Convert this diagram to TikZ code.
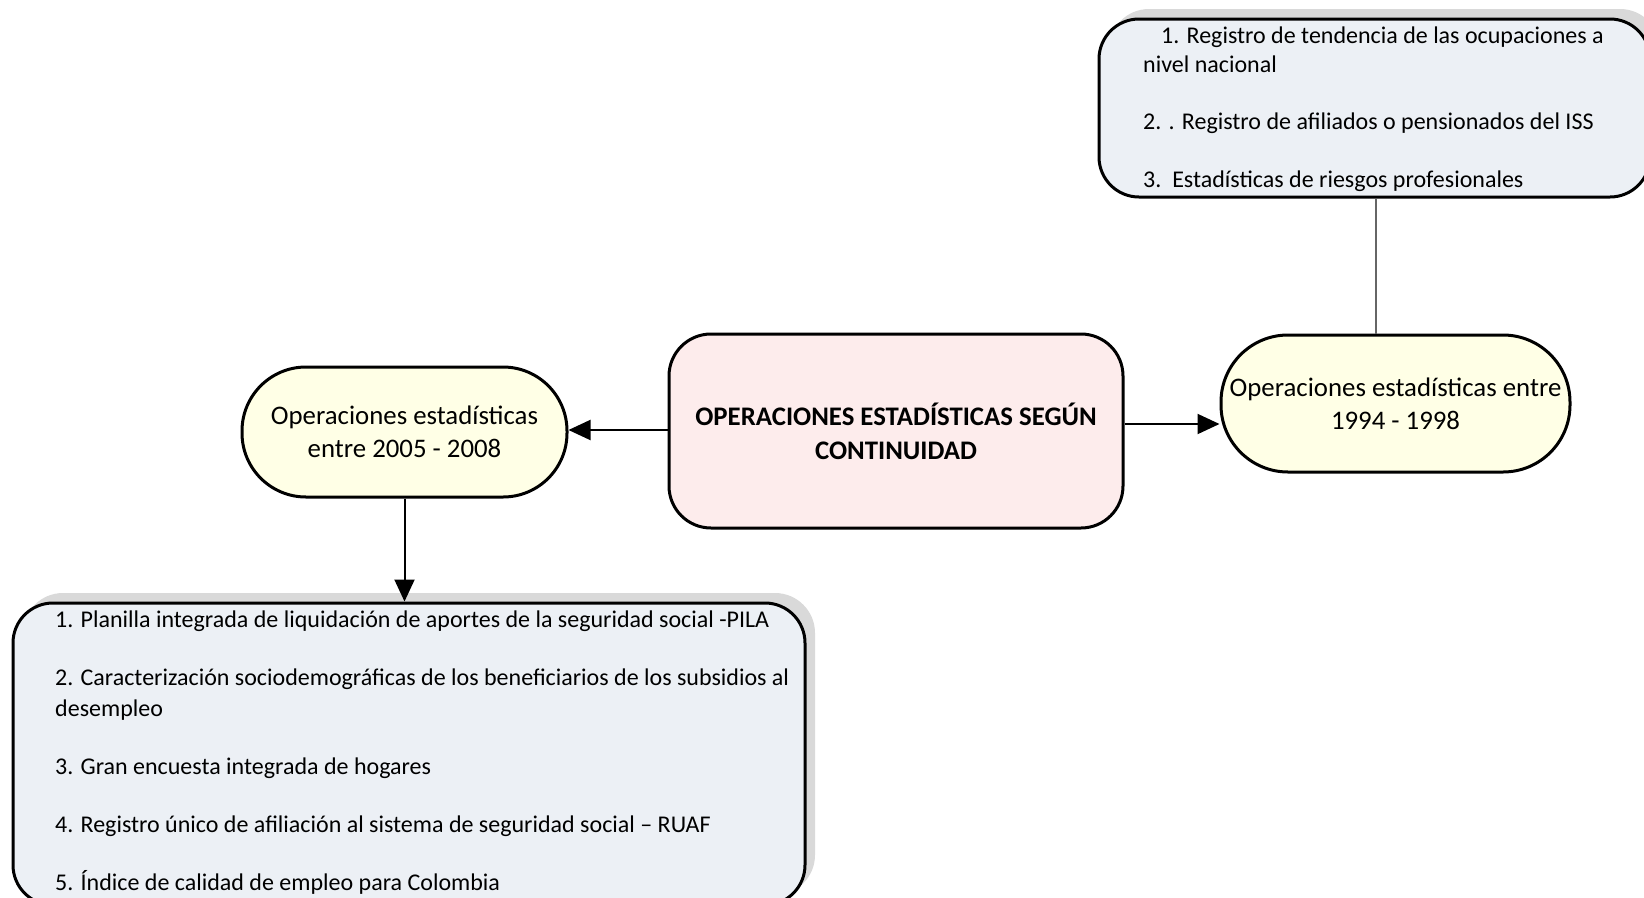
\documentclass[tikz,border=0pt]{standalone}
\usepackage{fontspec}
\setmainfont{Carlito}
\usetikzlibrary{arrows.meta,shadows}
\definecolor{listfill}{RGB}{236,240,245}
\definecolor{ovalfill}{RGB}{255,255,230}
\definecolor{mainfill}{RGB}{253,236,236}
\definecolor{shadowc}{RGB}{217,217,217}
\begin{document}
\begin{tikzpicture}[x=1pt,y=-1pt,
  listbox/.style={draw=black,line width=3pt,rounded corners=40pt,fill=listfill,inner sep=0pt,
    drop shadow={shadow xshift=10pt,shadow yshift=10pt,fill=shadowc,opacity=1}},
  oval/.style={draw=black,line width=3pt,fill=ovalfill,inner sep=0pt,align=center,
    font=\fontsize{26.8}{33}\selectfont},
  mainbox/.style={draw=black,line width=3pt,rounded corners=42pt,fill=mainfill,inner sep=0pt,align=center,
    font=\fontsize{26.8}{34}\selectfont\bfseries},
  listtext/.style={anchor=north west,align=left,inner sep=0pt,font=\fontsize{24}{28.7}\selectfont},
  listtextb/.style={anchor=north west,align=left,inner sep=0pt,font=\fontsize{24}{30.5}\selectfont},
  arr/.style={line width=2pt,-{Triangle[length=22pt,width=20pt]}},
  link/.style={line width=1.3pt,draw=black!60}]
\useasboundingbox (0,0) rectangle (1644,897);
% boxes
\node[listbox,minimum width=792pt,minimum height=302pt] (b) at (409,754) {};
\node[listbox,minimum width=551pt,minimum height=178pt] (t) at (1374.5,108) {};
\node[mainbox,minimum width=454pt,minimum height=194pt] (c) at (896,431) {OPERACIONES ESTADÍSTICAS SEGÚN\\CONTINUIDAD};
\node[oval,rounded corners=64pt,minimum width=325pt,minimum height=130pt] (l) at (404.5,432) {Operaciones estadísticas\\entre 2005 - 2008};
\node[oval,rounded corners=67pt,minimum width=349pt,minimum height=137pt] (r) at (1395.5,403.5) {Operaciones estadísticas entre\\1994 - 1998};
% list texts
\node[listtext] (tt) at (1143,27) {\hspace*{18pt}1. Registro de tendencia de las ocupaciones a\\nivel nacional\\[28.7pt]2. . Registro de afiliados o pensionados del ISS\\[28.7pt]3.\ \ Estadísticas de riesgos profesionales};
\node[listtextb] (bt) at (55,611) {1. Planilla integrada de liquidación de aportes de la seguridad social -PILA\\[27.5pt]2. Caracterización sociodemográficas de los beneficiarios de los subsidios al\\desempleo\\[27.5pt]3. Gran encuesta integrada de hogares\\[27.5pt]4. Registro único de afiliación al sistema de seguridad social – RUAF\\[27.8pt]5. Índice de calidad de empleo para Colombia};
% connectors
\draw[arr] (c.west |- 0,430) -- (l.east |- 0,430);
\draw[arr] (c.east |- 0,424) -- (r.west |- 0,424);
\draw[arr] (l.south) -- (b.north -| l.south);
\draw[link] (t.south -| 1376,0) -- (r.north -| 1376,0);
\end{tikzpicture}
\end{document}
